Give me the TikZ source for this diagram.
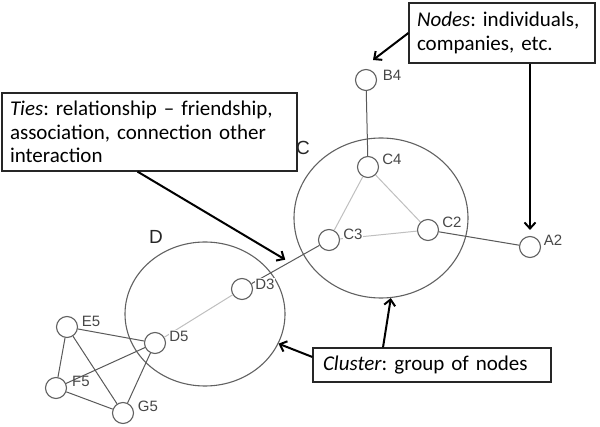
\documentclass[tikz,border=0pt]{standalone}
\usepackage{fontspec}
\setmainfont{Carlito}
\newfontfamily\tagfont{Liberation Sans}
\usetikzlibrary{shapes.geometric,arrows.meta}
\frenchspacing

\begin{document}
\begin{tikzpicture}[x=1pt,y=-1pt]
  \tikzset{>={Straight Barb[length=6pt,width=11pt]},
    net node/.style={circle,draw=black!62,line width=1.1pt,fill=white,
      minimum size=21pt,inner sep=0pt},
    cluster ring/.style={ellipse,draw=black!62,line width=1.1pt,inner sep=0pt},
    strong tie/.style={draw=black!65,line width=1pt},
    weak tie/.style={draw=black!25,line width=1pt},
    tag/.style={font=\tagfont\fontsize{15}{15}\selectfont,text=black!72,
      fill=white,inner sep=0.5pt},
    big tag/.style={font=\tagfont\fontsize{19}{19}\selectfont,text=black!85},
    note box/.style={draw=black!85,line width=1.2pt,fill=white,inner xsep=8pt,
      align=left,font=\fontsize{21}{23.5}\selectfont},
    pointer/.style={->,line width=2pt,black}
  }
  \useasboundingbox (0,0) rectangle (600,427);

  % clusters
  \node[cluster ring,minimum width=174pt,minimum height=160pt] (clC) at (381,218) {};
  \node[cluster ring,minimum width=160pt,minimum height=144pt] (clD) at (205,314) {};
  \node[big tag] (clC tag) at (303,148) {C};
  \node[big tag] (clD tag) at (156,237) {D};

  % actors
  \node[net node] (b4) at (366,80) {};
  \node[net node] (c4) at (368,167) {};
  \node[net node] (c3) at (329,240) {};
  \node[net node] (c2) at (428,230) {};
  \node[net node] (a2) at (530,247) {};
  \node[net node] (d3) at (242,289) {};
  \node[net node] (d5) at (155,343) {};
  \node[net node] (e5) at (67,327) {};
  \node[net node] (f5) at (56,388) {};
  \node[net node] (g5) at (123,413) {};

  % ties
  \draw[strong tie] (b4) -- (c4);
  \draw[weak tie] (c4) -- (c3);
  \draw[weak tie] (c4) -- (c2);
  \draw[weak tie] (c3) -- (c2);
  \draw[strong tie] (c2) -- (a2);
  \draw[strong tie] (c3) -- coordinate[pos=0.44] (tie mid) (d3);
  \draw[weak tie] (d3) -- (d5);
  \draw[strong tie] (e5) -- (d5);
  \draw[strong tie] (e5) -- (f5);
  \draw[strong tie] (e5) -- (g5);
  \draw[strong tie] (f5) -- (d5);
  \draw[strong tie] (f5) -- (g5);
  \draw[strong tie] (d5) -- (g5);

  % names
  \node[tag] (b4 tag) at (392,75) {B4};
  \node[tag] (c4 tag) at (392,159) {C4};
  \node[tag] (c3 tag) at (353,234) {C3};
  \node[tag] (c2 tag) at (452,222) {C2};
  \node[tag] (a2 tag) at (553,240) {A2};
  \node[tag] (d3 tag) at (265,284) {D3};
  \node[tag] (d5 tag) at (179,336) {D5};
  \node[tag] (e5 tag) at (91,321) {E5};
  \node[tag,fill=none] (f5 tag) at (81,381) {F5};
  \node[tag] (g5 tag) at (148,406) {G5};

  % notes
  \node[note box,text width=170pt,minimum height=60pt] (nodes box) at (502,33)
    {\textit{Nodes}: individuals,\\companies, etc.};
  \node[note box,text width=279pt,minimum height=78pt] (ties box) at (149.5,132)
    {\textit{Ties}: relationship -- friendship,\\association, connection other\\interaction};
  \node[note box,inner xsep=10pt,text width=218pt,minimum height=34pt] (cluster box)
    at (432,365) {\textit{Cluster}: group of nodes};

  \draw[pointer] (nodes box.west) -- ([shift={(7pt,20pt)}]b4.center);
  \draw[pointer,shorten >=6pt] (nodes box.south -| a2) -- (a2.north);
  \draw[pointer,shorten >=5pt] ([xshift=-12pt]ties box.south) -- (tie mid);
  \draw[pointer] ([xshift=-49pt]cluster box.north) -- (clC.-83);
  \draw[pointer] ([yshift=8pt]cluster box.west) -- (clD.-22);
\end{tikzpicture}
\end{document}
